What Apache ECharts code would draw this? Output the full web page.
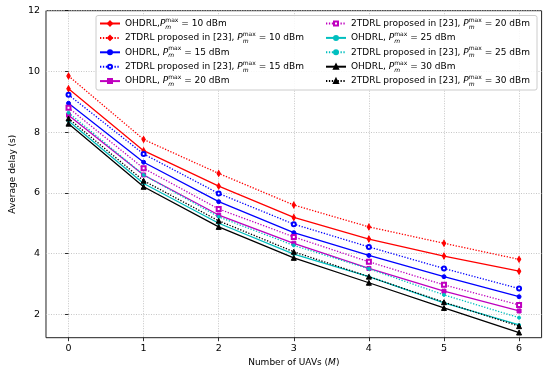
<!DOCTYPE html>
<html><head><meta charset="utf-8">
<script src="https://cdn.jsdelivr.net/npm/echarts@6/dist/echarts.min.js"></script>
<style>html,body{margin:0;padding:0;background:#fff}#c{width:550px;height:374px}</style>
</head><body><div id="c"></div>
<script>
const uavs = [0, 1, 2, 3, 4, 5, 6];
const xTicks = [0, 1, 2, 3, 4, 5, 6];
const yTicks = [2, 4, 6, 8, 10, 12];
const ohdrl10 = [9.43, 7.39, 6.22, 5.19, 4.48, 3.92, 3.42];
const tdrl10  = [9.85, 7.76, 6.64, 5.60, 4.88, 4.34, 3.81];
const ohdrl15 = [8.95, 7.01, 5.71, 4.69, 3.94, 3.24, 2.58];
const tdrl15  = [9.23, 7.28, 5.98, 4.97, 4.22, 3.51, 2.85];
const ohdrl20 = [8.56, 6.59, 5.27, 4.34, 3.51, 2.76, 2.11];
const tdrl20  = [8.80, 6.81, 5.47, 4.55, 3.73, 2.97, 2.31];
const ohdrl25 = [8.37, 6.31, 5.00, 3.98, 3.24, 2.38, 1.65];
const tdrl25  = [8.64, 6.59, 5.21, 4.27, 3.50, 2.64, 1.89];
const ohdrl30 = [8.28, 6.20, 4.88, 3.86, 3.04, 2.21, 1.40];
const tdrl30  = [8.45, 6.40, 5.08, 4.06, 3.24, 2.40, 1.61];
const names = [
  'OHDRL,P_m^max = 10 dBm', '2TDRL proposed in [23], P_m^max = 10 dBm',
  'OHDRL, P_m^max = 15 dBm', '2TDRL proposed in [23], P_m^max = 15 dBm',
  'OHDRL, P_m^max = 20 dBm', '2TDRL proposed in [23], P_m^max = 20 dBm',
  'OHDRL, P_m^max = 25 dBm', '2TDRL proposed in [23], P_m^max = 25 dBm',
  'OHDRL, P_m^max = 30 dBm', '2TDRL proposed in [23], P_m^max = 30 dBm'
];
const values = [ohdrl10, tdrl10, ohdrl15, tdrl15, ohdrl20, tdrl20, ohdrl25, tdrl25, ohdrl30, tdrl30];
const colors = ['#ff0000', '#ff0000', '#0000ff', '#0000ff', '#bf00bf', '#bf00bf', '#00bfbf', '#00bfbf', '#000000', '#000000'];
const symbols = ['diamond', 'diamond', 'circle', 'emptyCircle', 'rect', 'emptyRect', 'circle', 'circle', 'triangle', 'triangle'];
const sizes = [[3.5, 6], [3.5, 6], 4, 4, 4, 4, 3, 3, 5, 5];
const FONT = 'DejaVu Sans';

const series = names.map((n, i) => ({
  name: n, type: 'line',
  data: uavs.map((x, j) => [x, values[i][j]]),
  symbol: symbols[i], symbolSize: sizes[i],
  color: colors[i],
  lineStyle: { width: 1.3, type: i % 2 ? [1.3, 1.6] : 'solid', color: colors[i] },
  itemStyle: { color: colors[i], borderColor: colors[i], borderWidth: 1 },
  emphasis: { disabled: true },
  z: 2 + i
}));

function fmt(name) {
  const m = name.split('P_m^max');
  return m[0] + '{i|P}{sub|m}{sup|max}' + m[1];
}
const rich = {
  i: { fontStyle: 'italic', fontSize: 9, fontFamily: FONT, color: '#000', lineHeight: 13 },
  sub: { fontSize: 6, fontFamily: FONT, color: '#000', fontStyle: 'italic', verticalAlign: 'bottom', lineHeight: 13, width: 0.01, padding: [4, 0, 0, 0] },
  sup: { fontSize: 6, fontFamily: FONT, color: '#000', verticalAlign: 'top', lineHeight: 13, padding: [0, 0, 4, 0] }
};
const legendBase = {
  orient: 'vertical', padding: 0, itemWidth: 20, itemHeight: 5, itemGap: 1.4,
  formatter: fmt,
  textStyle: { fontSize: 9, fontFamily: FONT, color: '#000', lineHeight: 13, rich: rich },
  z: 10
};

const chart = echarts.init(document.getElementById('c'), null, { renderer: 'canvas' });
chart.setOption({
  animation: false,
  backgroundColor: '#fff',
  grid: { left: 38, right: 8.4, top: 10.7, bottom: 36.3, show: true, borderColor: '#222', borderWidth: 1, backgroundColor: 'transparent' },
  xAxis: {
    type: 'value', min: -0.3, max: 6.3, splitNumber: 7,
    name: 'Number of UAVs ({i|M})', nameLocation: 'middle', nameGap: 20,
    nameTextStyle: { fontSize: 9, fontFamily: FONT, color: '#000', rich: { i: { fontStyle: 'italic', fontSize: 9, fontFamily: FONT, color: '#000' } } },
    axisLine: { show: false },
    axisTick: { show: true, customValues: xTicks, length: 3.5, lineStyle: { color: '#000', width: 0.8 } },
    axisLabel: { customValues: xTicks, fontSize: 9.5, fontFamily: FONT, color: '#000', margin: 6, formatter: v => String(v) },
    splitLine: { show: true, lineStyle: { color: '#b8b8b8', width: 0.8, type: [1, 1.5] } }
  },
  yAxis: {
    type: 'value', min: 1.23, max: 12, splitNumber: 5,
    name: 'Average delay (s)', nameLocation: 'middle', nameGap: 24,
    nameTextStyle: { fontSize: 9, fontFamily: FONT, color: '#000' },
    axisLine: { show: false },
    axisTick: { show: true, customValues: yTicks, length: 3.5, lineStyle: { color: '#000', width: 0.8 } },
    axisLabel: { customValues: yTicks, fontSize: 9.5, fontFamily: FONT, color: '#000', margin: 6, formatter: v => String(v) },
    splitLine: { show: true, lineStyle: { color: '#b8b8b8', width: 0.8, type: [1, 1.5] } }
  },
  graphic: [{
    type: 'rect', shape: { x: 96, y: 15.5, width: 441, height: 74.5, r: 2 },
    style: { fill: 'rgba(255,255,255,0.85)', stroke: '#cccccc', lineWidth: 1 }, z: 9
  }],
  legend: [
    Object.assign({}, legendBase, { left: 99, top: 17, data: names.slice(0, 5) }),
    Object.assign({}, legendBase, { left: 325, top: 17, data: names.slice(5) })
  ],
  series: series
});
</script></body></html>
